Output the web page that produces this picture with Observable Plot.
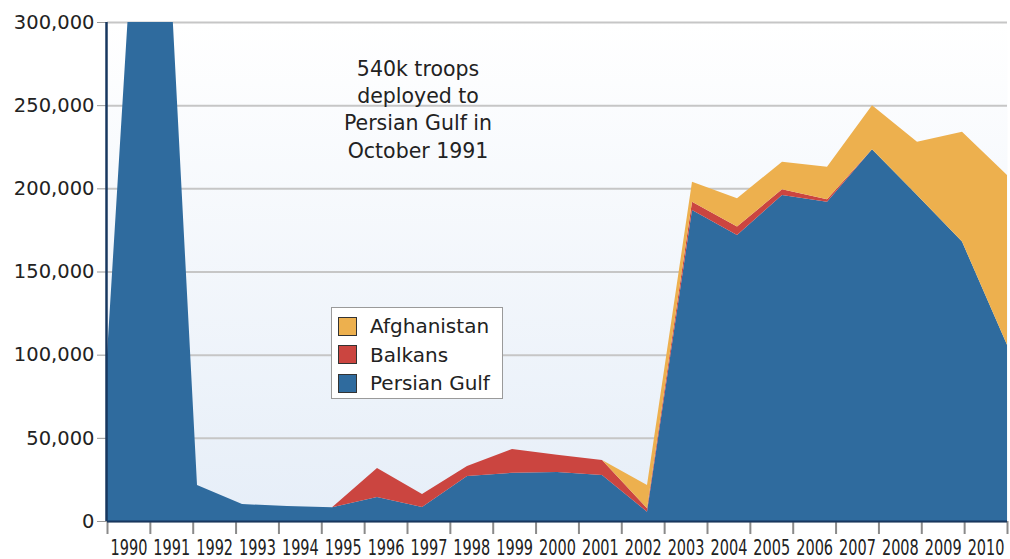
<!DOCTYPE html>
<html>
<head>
<meta charset="utf-8">
<script src="https://cdn.jsdelivr.net/npm/d3@7"></script>
<script src="https://cdn.jsdelivr.net/npm/@observablehq/plot@0.6"></script>
<style>
  html, body { margin: 0; padding: 0; background: #fff; }
  #wrap { position: relative; width: 1010px; height: 559px; }
  #legend {
    position: absolute; left: 331px; top: 307px; width: 170px; height: 90px;
    background: #fff; border: 1.5px solid #9a9a9a;
    font-family: "DejaVu Sans", sans-serif; font-size: 20px; color: #222;
  }
  .item { position: absolute; left: 6px; height: 22px; display: flex; align-items: center; }
  .sw { width: 19px; height: 19px; border: 1.2px solid #333; box-sizing: border-box; margin-right: 13px; }
</style>
</head>
<body>
<div id="wrap"><div id="legend"></div></div>
<script>
const years = [1990,1991,1992,1993,1994,1995,1996,1997,1998,1999,2000,2001,2002,2003,2004,2005,2006,2007,2008,2009,2010];
const persianGulf = [100000,540000,21600,10200,9000,8200,14400,8400,27000,29000,29500,27600,5600,187000,172000,196000,192000,223500,196000,168000,106000];
const balkans     = [0,0,0,0,0,0,17400,7800,6000,14300,10300,9100,2000,5000,5000,3500,1500,0,0,0,0];
const afghanistan = [0,0,0,0,0,0,0,0,0,0,0,0,14000,12000,17000,16500,19500,26500,32000,66000,102000];
const seriesNames = ["Persian Gulf","Balkans","Afghanistan"];
const seriesColors = ["#2f6b9e","#cb4540","#edb04e"];
const yTicks = [0,50000,100000,150000,200000,250000,300000];
const annotation = "540k troops\ndeployed to\nPersian Gulf in\nOctober 1991";

const seriesValues = [persianGulf, balkans, afghanistan];
const data = [];
seriesNames.forEach((name, s) => {
  seriesValues[s].forEach((v, i) => data.push({i, year: years[i], series: name, value: v}));
});
const n = years.length;
const boundaries = d3.range(n + 1).map(k => k * (n - 1) / n);
const centers = years.map((y, k) => ({year: y, pos: (k + 0.5) * (n - 1) / n}));

const chart = Plot.plot({
  width: 1010, height: 559,
  marginLeft: 107, marginRight: 3, marginTop: 22, marginBottom: 38,
  style: {fontFamily: "'DejaVu Sans', sans-serif", fontSize: "19.5px", color: "#222", background: "transparent"},
  x: {domain: [0, n - 1], axis: null},
  y: {domain: [0, 300000], axis: null},
  color: {domain: seriesNames, range: seriesColors},
  marks: [
    Plot.frame({fill: "url(#bgGrad)", stroke: "none"}),
    Plot.gridY(yTicks, {stroke: "#c6c6c6", strokeOpacity: 1, strokeWidth: 2}),
    Plot.areaY(data, {x: "i", y: "value", z: "series", fill: "series", order: seriesNames, clip: true}),
    Plot.axisY(yTicks, {label: null, tickSize: 10, tickPadding: 3, tickFormat: d3.format(","), stroke: "#999", fill: "#222", fontSize: 19.5}),
    Plot.axisX(boundaries, {label: null, tickSize: 13, tickFormat: () => "", stroke: "#8a8a8a", strokeWidth: 2}),
    Plot.ruleX([0], {dx: -1, stroke: "#17375f", strokeWidth: 2.5}),
    Plot.ruleY([0], {stroke: "#17375f", strokeWidth: 2}),
    Plot.text(centers, {x: "pos", frameAnchor: "bottom", lineAnchor: "bottom", dy: 33, text: d => String(d.year),
      className: "xlab", fontFamily: "'DejaVu Sans', sans-serif", fontSize: 21, fill: "#222"}),
    Plot.text([annotation], {x: 6.9, y: 279500, text: d => d, lineAnchor: "top", lineHeight: 1.33, fontSize: 20.5, fill: "#222"})
  ]
});

d3.select(chart).insert("defs", ":first-child").html(
  '<linearGradient id="bgGrad" x1="0" y1="0" x2="0" y2="1">' +
  '<stop offset="0" stop-color="#ffffff"/><stop offset="1" stop-color="#e6eef8"/></linearGradient>'
);
// condense the year labels horizontally (no condensed face installed)
d3.select(chart).selectAll(".xlab text").each(function() {
  const t = this.getAttribute("transform");
  if (t) {
    this.setAttribute("transform", t + " scale(0.69,1)");
  } else {
    const x = +this.getAttribute("x") || 0;
    this.setAttribute("transform", `translate(${x},0) scale(0.69,1) translate(${-x},0)`);
  }
});
document.getElementById("wrap").insertBefore(chart, document.getElementById("legend"));

const legend = document.getElementById("legend");
[2, 1, 0].forEach((s, row) => {
  const it = document.createElement("div");
  it.className = "item";
  it.style.top = (7 + row * 28.5) + "px";
  const sw = document.createElement("div");
  sw.className = "sw";
  sw.style.background = seriesColors[s];
  const lab = document.createElement("span");
  lab.textContent = seriesNames[s];
  it.appendChild(sw); it.appendChild(lab);
  legend.appendChild(it);
});
</script>
</body>
</html>
